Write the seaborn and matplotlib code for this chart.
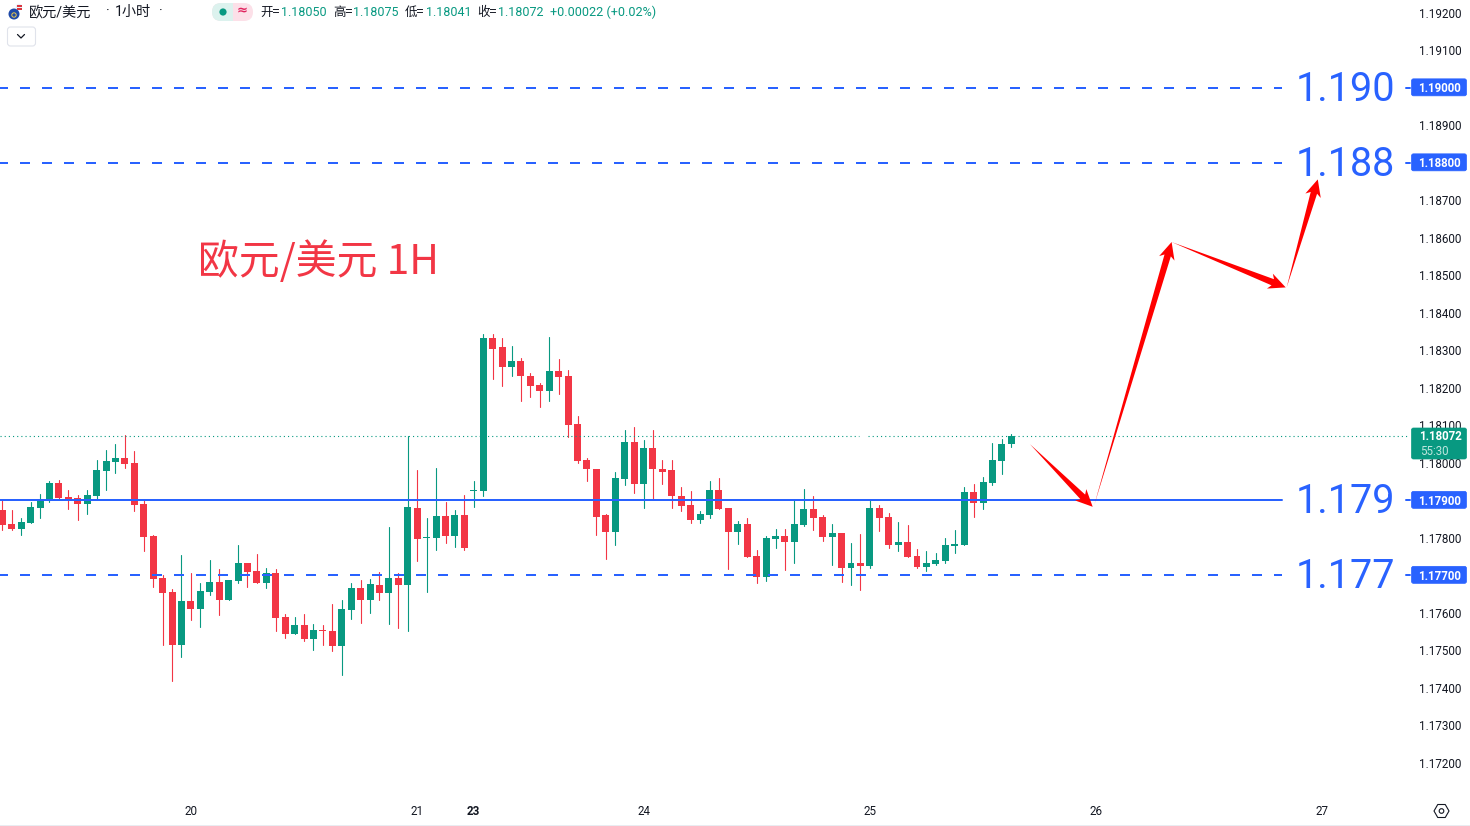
import numpy as np
import pandas as pd
import matplotlib
matplotlib.use('Agg')
import matplotlib.pyplot as plt
import seaborn as sns
from matplotlib.patches import Circle, FancyBboxPatch, Polygon, Rectangle, RegularPolygon
from matplotlib.lines import Line2D
from matplotlib.transforms import IdentityTransform

# hourly EUR/USD candles
opens = [
    1.17873, 1.17836, 1.17823, 1.17839, 1.17879, 1.17897, 1.17945, 1.17908, 1.17905, 1.17889,
    1.17911, 1.17977, 1.18001, 1.18012, 1.17999, 1.17889, 1.17804, 1.17692, 1.17655, 1.17513,
    1.17631, 1.17609, 1.17655, 1.17681, 1.17633, 1.17684, 1.17732, 1.17711, 1.17679, 1.17705,
    1.17588, 1.17543, 1.17567, 1.17529, 1.17553, 1.17551, 1.17511, 1.17607, 1.17665, 1.17633,
    1.17673, 1.17652, 1.17692, 1.17673, 1.17879, 1.17799, 1.17799, 1.17857, 1.17804, 1.17860,
    1.17924, 1.17923, 1.18331, 1.18307, 1.18256, 1.18272, 1.18232, 1.18206, 1.18192, 1.18243,
    1.18230, 1.18102, 1.18006, 1.17984, 1.17859, 1.17814, 1.17955, 1.18054, 1.17944, 1.18038,
    1.17984, 1.17979, 1.17912, 1.17886, 1.17846, 1.17859, 1.17926, 1.17878, 1.17815, 1.17836,
    1.17751, 1.17695, 1.17796, 1.17804, 1.17788, 1.17833, 1.17876, 1.17855, 1.17801, 1.17812,
    1.17719, 1.17732, 1.17724, 1.17879, 1.17855, 1.17780, 1.17788, 1.17751, 1.17721, 1.17729,
    1.17737, 1.17777, 1.17780, 1.17921, 1.17892, 1.17945, 1.18004, 1.18050,
]
closes = [
    1.17834, 1.17823, 1.17841, 1.17881, 1.17900, 1.17945, 1.17905, 1.17903, 1.17889, 1.17913,
    1.17980, 1.18004, 1.18012, 1.17996, 1.17887, 1.17801, 1.17689, 1.17652, 1.17513, 1.17631,
    1.17609, 1.17657, 1.17681, 1.17633, 1.17687, 1.17732, 1.17708, 1.17679, 1.17705, 1.17585,
    1.17543, 1.17567, 1.17529, 1.17553, 1.17551, 1.17511, 1.17609, 1.17665, 1.17633, 1.17676,
    1.17652, 1.17692, 1.17673, 1.17881, 1.17796, 1.17801, 1.17857, 1.17804, 1.17860, 1.17772,
    1.17927, 1.18331, 1.18304, 1.18256, 1.18272, 1.18230, 1.18203, 1.18192, 1.18243, 1.18227,
    1.18099, 1.18003, 1.17982, 1.17856, 1.17814, 1.17958, 1.18054, 1.17944, 1.18038, 1.17982,
    1.17976, 1.17910, 1.17883, 1.17846, 1.17862, 1.17926, 1.17875, 1.17814, 1.17836, 1.17748,
    1.17695, 1.17799, 1.17804, 1.17788, 1.17836, 1.17876, 1.17852, 1.17801, 1.17812, 1.17719,
    1.17732, 1.17724, 1.17879, 1.17852, 1.17780, 1.17788, 1.17748, 1.17721, 1.17732, 1.17740,
    1.17780, 1.17783, 1.17921, 1.17892, 1.17948, 1.18007, 1.18049, 1.18072,
]
highs = [
    1.17903, 1.17873, 1.17852, 1.17895, 1.17916, 1.17951, 1.17953, 1.17927, 1.17913, 1.17927,
    1.18007, 1.18033, 1.18049, 1.18073, 1.18031, 1.17903, 1.17807, 1.17700, 1.17663, 1.17753,
    1.17705, 1.17679, 1.17740, 1.17716, 1.17687, 1.17780, 1.17732, 1.17756, 1.17719, 1.17716,
    1.17596, 1.17588, 1.17596, 1.17569, 1.17567, 1.17623, 1.17633, 1.17679, 1.17687, 1.17689,
    1.17708, 1.17828, 1.17705, 1.18071, 1.17980, 1.17852, 1.17985, 1.17895, 1.17873, 1.17913,
    1.17951, 1.18344, 1.18342, 1.18331, 1.18310, 1.18278, 1.18238, 1.18211, 1.18336, 1.18275,
    1.18246, 1.18123, 1.18011, 1.17984, 1.17862, 1.17976, 1.18088, 1.18096, 1.18059, 1.18086,
    1.18006, 1.18006, 1.17936, 1.17923, 1.17870, 1.17952, 1.17960, 1.17878, 1.17844, 1.17852,
    1.17767, 1.17804, 1.17823, 1.17823, 1.17900, 1.17929, 1.17911, 1.17860, 1.17836, 1.17812,
    1.17785, 1.17809, 1.17900, 1.17887, 1.17865, 1.17841, 1.17833, 1.17769, 1.17764, 1.17759,
    1.17799, 1.17820, 1.17935, 1.17943, 1.17961, 1.18052, 1.18063, 1.18075,
]
lows = [
    1.17820, 1.17820, 1.17807, 1.17839, 1.17852, 1.17895, 1.17903, 1.17876, 1.17847, 1.17863,
    1.17903, 1.17927, 1.17972, 1.17985, 1.17871, 1.17764, 1.17668, 1.17513, 1.17417, 1.17481,
    1.17580, 1.17561, 1.17647, 1.17593, 1.17633, 1.17679, 1.17668, 1.17679, 1.17665, 1.17551,
    1.17532, 1.17543, 1.17524, 1.17500, 1.17513, 1.17497, 1.17433, 1.17583, 1.17572, 1.17599,
    1.17633, 1.17569, 1.17559, 1.17551, 1.17737, 1.17655, 1.17767, 1.17785, 1.17775, 1.17767,
    1.17881, 1.17912, 1.18224, 1.18203, 1.18230, 1.18163, 1.18176, 1.18147, 1.18163, 1.18184,
    1.18067, 1.18000, 1.17950, 1.17808, 1.17742, 1.17779, 1.17939, 1.17918, 1.17880, 1.17904,
    1.17944, 1.17880, 1.17872, 1.17840, 1.17838, 1.17851, 1.17875, 1.17715, 1.17783, 1.17748,
    1.17679, 1.17684, 1.17772, 1.17713, 1.17732, 1.17831, 1.17820, 1.17791, 1.17727, 1.17681,
    1.17673, 1.17660, 1.17719, 1.17817, 1.17772, 1.17764, 1.17748, 1.17719, 1.17711, 1.17727,
    1.17732, 1.17759, 1.17780, 1.17855, 1.17876, 1.17940, 1.17969, 1.18041,
]

day_ticks = [20, 44, 50, 68, 92, 116, 140]
day_labels = ['20', '21', '23', '24', '25', '26', '27']
price_ticks = [1.172, 1.173, 1.174, 1.175, 1.176, 1.177, 1.178, 1.179, 1.180, 1.181,
               1.182, 1.183, 1.184, 1.185, 1.186, 1.187, 1.188, 1.189, 1.190, 1.191, 1.192]

dashed_levels = [1.190, 1.188, 1.177]
solid_levels = [1.179]
level_labels = ['1.190', '1.188', '1.179', '1.177']
level_values = [1.190, 1.188, 1.179, 1.177]
last_price = 1.18072

# forecast path: (bar, price) at tail and tip of every arrow
arrow_tails = [(108.98, 1.18049), (115.80, 1.17887), (124.00, 1.18588), (136.20, 1.18467)]
arrow_tips = [(115.63, 1.17882), (124.00, 1.18588), (136.10, 1.18467), (139.50, 1.18755)]

GREEN = '#089981'
RED = '#F23645'
BLUE = '#2962FF'
INK = '#131722'
W, H = 1470, 826

sns.set_theme(style='white')
plt.rcParams['font.family'] = ['Roboto', 'Noto Sans CJK SC', 'DejaVu Sans']

df = pd.DataFrame({'bar': np.arange(len(opens)), 'open': opens, 'high': highs, 'low': lows, 'close': closes})
df['up'] = df['close'] >= df['open']
df['body_low'] = df[['open', 'close']].min(axis=1)
df['body'] = (df['close'] - df['open']).abs()

wicks = df.melt(id_vars=['bar', 'up'], value_vars=['high', 'low'], value_name='price')

fig = plt.figure(figsize=(W / 100, H / 100), dpi=100, facecolor='white')
ax = fig.add_axes([0, (H - 797) / H, 1410 / W, 797 / H])

sns.lineplot(data=wicks, x='bar', y='price', hue='up', units='bar', estimator=None,
             palette={True: GREEN, False: RED}, linewidth=0.8, legend=False, sort=False, ax=ax, zorder=2)
for is_up, color in [(True, GREEN), (False, RED)]:
    part = df[df['up'] == is_up]
    sns.barplot(data=part, x='bar', y='body', bottom=part['body_low'].values, native_scale=True,
                color=color, saturation=1, width=0.74, errorbar=None, linewidth=0, ax=ax, zorder=3)

ax.set_xlim(-0.244, 149.28)
ax.set_ylim(1.1710813, 1.1923343)
sns.despine(ax=ax, left=True, bottom=True, right=True, top=True)
ax.set_xlabel('')
ax.set_ylabel('')
ax.grid(False)

# prices that carry a tag on the scale are shown by the tag itself
tick_texts = ['' if p in level_values else '%.5f' % p for p in price_ticks]
ax.yaxis.tick_right()
ax.set_yticks(price_ticks)
ax.set_yticklabels(tick_texts, fontsize=8.4, color=INK)
ax.tick_params(axis='y', length=0, pad=6.5)
ax.set_xticks(day_ticks)
ax.set_xticklabels(day_labels, fontsize=8.4, color=INK)
ax.tick_params(axis='x', length=0, pad=6)
for lab in ax.get_xticklabels():
    if lab.get_text() == '23':
        lab.set_fontweight('bold')

# level lines stop short of the big labels
line_end = (1282 - 2.3) / 9.43
for lvl in dashed_levels:
    ax.plot([-0.244, line_end], [lvl, lvl], color=BLUE, lw=1.44, linestyle=(1, (5, 6)), zorder=5)
for lvl in solid_levels:
    ax.plot([-0.244, line_end], [lvl, lvl], color=BLUE, lw=1.44, zorder=5)
for lvl in level_values:
    ax.plot([148.9, 149.28], [lvl, lvl], color=BLUE, lw=1.44, zorder=5, clip_on=False)

# last price dotted line, has a small break near the 25th in the original
ax.plot([-0.244, 90.9], [last_price, last_price], color=GREEN, lw=0.8, linestyle=(0, (1, 2.75)), zorder=4)
ax.plot([91.8, 149.28], [last_price, last_price], color=GREEN, lw=0.8, linestyle=(0, (1, 2.75)), zorder=4)

for txt, lvl in zip(level_labels, level_values):
    ax.text(137.2, lvl - 0.00035, txt, fontsize=28.5, color=BLUE, va='baseline', ha='left',
            family=['Roboto'], zorder=6)

ax.text(20.75, 1.18535, '欧元/美元 1H', fontsize=29.4, color=RED, va='center', ha='left',
        family=['Noto Sans CJK SC', 'DejaVu Sans'], zorder=6)


def to_disp(bar, price):
    return ax.transData.transform((bar, price))


def draw_arrow(tail, tip, head_len=17, head_half=8.0, shaft_half=3.3):
    # tapered arrow: starts as a point at the tail and widens up to the head
    p0 = to_disp(*tail)
    p1 = to_disp(*tip)
    d = p1 - p0
    u = d / np.hypot(*d)
    n = np.array([-u[1], u[0]])
    base = p1 - u * head_len
    neck = p1 - u * head_len * 0.82
    pts = [p0, neck + n * shaft_half, base + n * head_half, p1,
           base - n * head_half, neck - n * shaft_half]
    fig.add_artist(Polygon(pts, closed=True, facecolor='#FF0000', edgecolor='none',
                           transform=IdentityTransform(), zorder=8))


for tail, tip in zip(arrow_tails, arrow_tips):
    draw_arrow(tail, tip)

pix = IdentityTransform()

# price tags on the scale
for lvl in level_values:
    y = to_disp(0, lvl)[1]
    fig.add_artist(FancyBboxPatch((1411.5, y - 8.3), 55, 17, boxstyle='round,pad=0,rounding_size=2',
                                  facecolor=BLUE, edgecolor=BLUE, lw=0.5, transform=pix, zorder=3))
    fig.text(1439.5 / W, (y - 1.2) / H, '%.5f' % lvl, fontsize=8.3, color='white', fontweight='bold',
             ha='center', va='center', zorder=4)

fig.add_artist(FancyBboxPatch((1411.5, H - 459), 55, 31, boxstyle='round,pad=0,rounding_size=2',
                              facecolor=GREEN, edgecolor=GREEN, lw=0.5, transform=pix, zorder=3))
fig.text(1440 / W, 1 - 437 / H, '%.5f' % last_price, fontsize=8.3, color='white', fontweight='bold',
         ha='center', va='center', zorder=4)
fig.text(1434 / W, 1 - 451 / H, '55:30', fontsize=8.3, color='#BFE6DE', ha='center', va='center', zorder=4)

# header line, the pieces sit at their own spots
header_parts = ['欧元/美元', '·', '1小时', '·']
header_x = [29, 106, 115, 159]
for part_txt, hx in zip(header_parts, header_x):
    fig.text(hx / W, 1 - 12 / H, part_txt, fontsize=10.2, color=INK, va='center')
fig.add_artist(Circle((14, H - 14), 5.5, facecolor='#1F4AA8', edgecolor='none', transform=pix))
fig.add_artist(Circle((19, H - 7), 3.2, facecolor='#E8EEF9', edgecolor='none', transform=pix))
fig.add_artist(Rectangle((17, H - 6.5), 5, 1.6, facecolor='#D9363E', edgecolor='none', transform=pix))
fig.add_artist(Rectangle((17, H - 9.5), 5, 1.4, facecolor='#D9363E', edgecolor='none', transform=pix))
fig.add_artist(Circle((14, H - 15), 2.2, facecolor='none', edgecolor='#E9C84A', lw=0.7, transform=pix))

pill = FancyBboxPatch((212, H - 21), 41, 18, boxstyle='round,pad=0,rounding_size=9',
                      facecolor='#FCE0E8', edgecolor='none', transform=pix)
fig.add_artist(pill)
left_half = Rectangle((212, H - 21), 21, 18, facecolor='#DCF2EE', edgecolor='none', transform=pix, zorder=1.5)
fig.add_artist(left_half)
left_half.set_clip_path(pill)
fig.add_artist(Circle((223, H - 12), 3.6, facecolor=GREEN, edgecolor='none', transform=pix, zorder=2))
fig.text(242 / W, 1 - 11 / H, '≈', fontsize=9.5, color='#E0245E', ha='center', va='center',
         family=['DejaVu Sans'], fontweight='bold', zorder=2)

legend_labels = ['开=', '高=', '低=', '收=']
legend_values = ['1.18050', '1.18075', '1.18041', '1.18072']
legend_label_x = [260, 333, 405, 477]
legend_value_x = [281, 353, 426, 498]
for lab, val, lx, vx in zip(legend_labels, legend_values, legend_label_x, legend_value_x):
    fig.text(lx / W, 1 - 12.5 / H, lab, fontsize=9, color=INK, va='center',
             family=['Noto Sans CJK SC', 'DejaVu Sans'])
    fig.text(vx / W, 1 - 12.5 / H, val, fontsize=9, color=GREEN, va='center')
fig.text(550 / W, 1 - 12.5 / H, '+0.00022 (+0.02%)', fontsize=9.1, color=GREEN, va='center')

# collapse button under the header
fig.add_artist(FancyBboxPatch((7.5, H - 46), 28, 19, boxstyle='round,pad=0,rounding_size=3',
                              facecolor='white', edgecolor='#E0E3EB', lw=0.8, transform=pix))
fig.add_artist(Line2D([17.5, 21, 24.5], [H - 34.5, H - 38, H - 34.5], color=INK, lw=0.9, transform=pix))

# settings hexagon and the bottom edge
fig.add_artist(RegularPolygon((1441.5, H - 811), 6, radius=7.5, orientation=np.pi / 6, facecolor='none',
                              edgecolor=INK, lw=0.8, transform=pix))
fig.add_artist(Circle((1441.5, H - 811), 2.3, facecolor='none', edgecolor=INK, lw=0.8, transform=pix))
fig.add_artist(Rectangle((0, 0), W, 1.5, facecolor='#E9ECF1', edgecolor='none', transform=pix))

fig.savefig('out.png', dpi=100, facecolor='white')
